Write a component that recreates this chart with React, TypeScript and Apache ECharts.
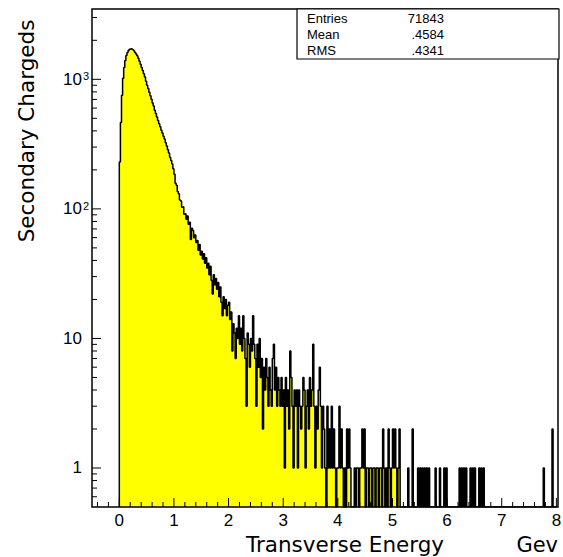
import React, { useEffect, useRef } from "react";
import * as echarts from "echarts";

// ---------- data (bin width 0.02 GeV, bins start at 0) ----------
const BIN_WIDTH = 0.02;
const N_BINS = 400;
// E 0.00 – 0.98
const countsPeak = [
  230, 465, 753, 1018, 1232, 1400, 1530, 1614, 1670, 1705,
  1722, 1708, 1690, 1662, 1614, 1570, 1520, 1452, 1380, 1310,
  1232, 1168, 1102, 1040, 968, 902, 848, 796, 748, 702,
  658, 622, 578, 546, 512, 482, 454, 430, 404, 386,
  364, 346, 324, 306, 286, 270, 250, 236, 222, 204,
];
// E 1.00 – 1.98
const countsFall = [
  185, 158, 152, 136, 131, 117, 115, 103, 104, 91,
  92, 83, 88, 76, 79, 58, 71, 68, 60, 63,
  55, 57, 48, 53, 44, 47, 41, 45, 38, 42,
  35, 38, 31, 36, 28, 22, 31, 26, 29, 24,
  27, 21, 25, 19, 15, 21, 17, 20, 15, 18,
];
// E 2.00 – 2.98
const countsTail1 = [
  19, 14, 16, 8, 13, 11, 7, 12, 10, 15,
  9, 12, 8, 15, 10, 7, 3, 11, 9, 6,
  10, 8, 15, 9, 7, 3, 9, 6, 10, 5,
  7, 2, 6, 4, 7, 5, 3, 6, 4, 3,
  7, 9, 4, 6, 3, 5, 4, 3, 5, 3,
];
// E 3.00 – 3.98
const countsTail2 = [
  4, 1, 5, 3, 4, 2, 8, 5, 3, 1,
  4, 3, 4, 1, 4, 3, 2, 3, 5, 4,
  1, 3, 4, 2, 5, 3, 4, 9, 3, 1,
  3, 2, 4, 6, 3, 1, 3, 2, 1, 0,
  3, 1, 2, 1, 3, 1, 2, 1, 0, 1,
];
// E 4.00 – 5.18
const countsTail3 = [
  1, 3, 1, 2, 1, 0, 1, 0, 2, 1,
  2, 1, 0, 0, 0, 1, 0, 1, 1, 0,
  1, 1, 2, 1, 2, 0, 1, 1, 0, 1,
  1, 0, 1, 1, 0, 1, 1, 0, 1, 1,
  0, 2, 1, 0, 1, 0, 2, 1, 0, 1,
  2, 1, 2, 1, 0, 1, 2, 0, 0, 0,
];
// E >= 5.20 : only non-empty bins [lower edge, count]
const sparseTail: [number, number][] = [
  [5.28, 1], [5.36, 2], [5.46, 1], [5.5, 1], [5.54, 1], [5.58, 1], [5.62, 1],
  [5.66, 1], [5.78, 1], [5.86, 1], [5.94, 1], [5.98, 1], [6.22, 1], [6.26, 1],
  [6.3, 1], [6.34, 1], [6.42, 1], [6.46, 1], [6.5, 1], [6.58, 1], [6.62, 1],
  [6.66, 1], [7.76, 1], [7.92, 2],
];

const statNames = ["Entries", "Mean", "RMS"];
const statValues = ["71843", ".4584", ".4341"];

const xTickValues = [0, 1, 2, 3, 4, 5, 6, 7, 8];
const xTickLabels = ["0", "1", "2", "3", "4", "5", "6", "7", "8"];
const yTickValues = [1, 10, 100, 1000];
const yTickBase = ["1", "10", "10", "10"];
const yTickExp = ["", "", "2", "3"];
const yMinorValues = [
  0.6, 0.7, 0.8, 0.9, 2, 3, 4, 5, 6, 7, 8, 9, 20, 30, 40, 50, 60, 70, 80, 90,
  200, 300, 400, 500, 600, 700, 800, 900, 2000, 3000,
];

const X_MIN = -0.5;
const X_MAX = 8.03;
const Y_MIN = 0.5;
const Y_MAX = 3490;

const FONT = '"Liberation Sans", Arial, sans-serif';
const TITLE_FONT = '"DejaVu Sans", "Liberation Sans", sans-serif';

export default function App() {
  const ref = useRef<HTMLDivElement>(null);

  useEffect(() => {
    if (!ref.current) return;
    const chart = echarts.init(ref.current, undefined, { renderer: "svg" });

    const counts: number[] = new Array(N_BINS).fill(0);
    [...countsPeak, ...countsFall, ...countsTail1, ...countsTail2, ...countsTail3].forEach(
      (c, i) => (counts[i] = c)
    );
    sparseTail.forEach(([e, c]) => (counts[Math.round(e / BIN_WIDTH)] = c));

    const lineData: number[][] = [[0, Y_MIN]];
    counts.forEach((c, i) => lineData.push([i * BIN_WIDTH, c > 0 ? c : Y_MIN]));
    const last = counts[N_BINS - 1];
    lineData.push([N_BINS * BIN_WIDTH, last > 0 ? last : Y_MIN]);
    lineData.push([N_BINS * BIN_WIDTH, Y_MIN]);

    const xMinor: number[] = [];
    for (let k = -2; k <= 40; k++) {
      const v = Math.round(k * 0.2 * 100) / 100;
      if (Math.abs(v - Math.round(v)) > 1e-6 && v > X_MIN && v < X_MAX) xMinor.push(v);
    }

    const tickStyle = { stroke: "#000", lineWidth: 1 };

    const option: any = {
      animation: false,
      grid: { left: 92, top: 9, width: 466, height: 498, containLabel: false },
      xAxis: {
        type: "value",
        min: X_MIN,
        max: X_MAX,
        axisLine: { show: false },
        axisTick: { show: false },
        axisLabel: { show: false },
        splitLine: { show: false },
      },
      yAxis: {
        type: "log",
        logBase: 10,
        min: Y_MIN,
        max: Y_MAX,
        axisLine: { show: false },
        axisTick: { show: false },
        axisLabel: { show: false },
        splitLine: { show: false },
      },
      series: [
        {
          type: "line",
          data: lineData,
          step: "end",
          showSymbol: false,
          symbol: "none",
          lineStyle: { color: "#000", width: 1.5 },
          areaStyle: { color: "#ffff00", opacity: 1, origin: "start" },
          z: 2,
        },
        // x major ticks + labels
        {
          type: "custom",
          data: xTickValues.map((v) => [v, Y_MIN]),
          z: 10,
          renderItem: (params: any, api: any) => {
            const v = xTickValues[params.dataIndex];
            const p = api.coord([v, Y_MIN]);
            return {
              type: "group",
              children: [
                { type: "line", shape: { x1: p[0], y1: p[1], x2: p[0], y2: p[1] - 9 }, style: tickStyle },
                {
                  type: "text",
                  x: p[0],
                  y: p[1] + 13,
                  style: {
                    text: xTickLabels[params.dataIndex],
                    fill: "#000",
                    font: `17px ${FONT}`,
                    textAlign: "center",
                    textVerticalAlign: "middle",
                    align: "center",
                    verticalAlign: "middle",
                  },
                },
              ],
            };
          },
        },
        // x minor ticks
        {
          type: "custom",
          data: xMinor.map((v) => [v, Y_MIN]),
          z: 10,
          renderItem: (params: any, api: any) => {
            const p = api.coord([xMinor[params.dataIndex], Y_MIN]);
            return { type: "line", shape: { x1: p[0], y1: p[1], x2: p[0], y2: p[1] - 5 }, style: tickStyle };
          },
        },
        // y major ticks + labels
        {
          type: "custom",
          data: yTickValues.map((v) => [X_MIN, v]),
          z: 10,
          renderItem: (params: any, api: any) => {
            const i = params.dataIndex;
            const p = api.coord([X_MIN, yTickValues[i]]);
            const children: any[] = [
              { type: "line", shape: { x1: p[0], y1: p[1], x2: p[0] + 9, y2: p[1] }, style: tickStyle },
              {
                type: "text",
                x: p[0] - 10,
                y: p[1],
                style: {
                  text: yTickBase[i],
                  fill: "#000",
                  font: `17px ${FONT}`,
                  textAlign: "right",
                  textVerticalAlign: "middle",
                  align: "right",
                  verticalAlign: "middle",
                },
              },
            ];
            if (yTickExp[i]) {
              children.push({
                type: "text",
                x: p[0] - 9,
                y: p[1] - 3,
                style: {
                  text: yTickExp[i],
                  fill: "#000",
                  font: `11px ${FONT}`,
                  textAlign: "left",
                  textVerticalAlign: "middle",
                  align: "left",
                  verticalAlign: "middle",
                },
              });
            }
            return { type: "group", children };
          },
        },
        // y minor ticks
        {
          type: "custom",
          data: yMinorValues.map((v) => [X_MIN, v]),
          z: 10,
          renderItem: (params: any, api: any) => {
            const p = api.coord([X_MIN, yMinorValues[params.dataIndex]]);
            return { type: "line", shape: { x1: p[0], y1: p[1], x2: p[0] + 5, y2: p[1] }, style: tickStyle };
          },
        },
        // frame
        {
          type: "custom",
          data: [[X_MIN, Y_MIN]],
          z: 11,
          renderItem: (params: any, api: any) => {
            const a = api.coord([X_MIN, Y_MIN]);
            const b = api.coord([X_MAX, Y_MAX]);
            return {
              type: "rect",
              shape: { x: a[0], y: b[1], width: b[0] - a[0], height: a[1] - b[1] },
              style: { fill: "none", stroke: "#000", lineWidth: 1.5 },
            };
          },
        },
      ],
      graphic: [
        {
          type: "rect",
          z: 20,
          shape: { x: 297, y: 9, width: 262, height: 50 },
          style: { fill: "#fff", stroke: "#000", lineWidth: 1.2 },
        },
        ...statNames.map((s, i) => ({
          type: "text",
          z: 21,
          x: 307,
          y: 18 + i * 16,
          style: { text: s, fill: "#000", font: `13px ${FONT}`, textAlign: "left", textVerticalAlign: "middle" },
        })),
        ...statValues.map((s, i) => ({
          type: "text",
          z: 21,
          x: 444,
          y: 18 + i * 16,
          style: { text: s, fill: "#000", font: `13px ${FONT}`, textAlign: "right", textVerticalAlign: "middle" },
        })),
        {
          type: "text",
          x: 345,
          y: 555,
          style: { text: "Transverse Energy", fill: "#000", font: `21.5px ${TITLE_FONT}`, textAlign: "center", textVerticalAlign: "bottom" },
        },
        {
          type: "text",
          x: 558,
          y: 555,
          style: { text: "Gev", fill: "#000", font: `21px ${TITLE_FONT}`, textAlign: "right", textVerticalAlign: "bottom" },
        },
        {
          type: "text",
          x: 26,
          y: 131,
          rotation: Math.PI / 2,
          style: { text: "Secondary Chargeds", fill: "#000", font: `21.5px ${TITLE_FONT}`, textAlign: "center", textVerticalAlign: "middle" },
        },
      ],
    };

    chart.setOption(option);
    return () => chart.dispose();
  }, []);

  return <div ref={ref} style={{ width: 563, height: 557, position: "absolute", left: 0, top: 0 }} />;
}
